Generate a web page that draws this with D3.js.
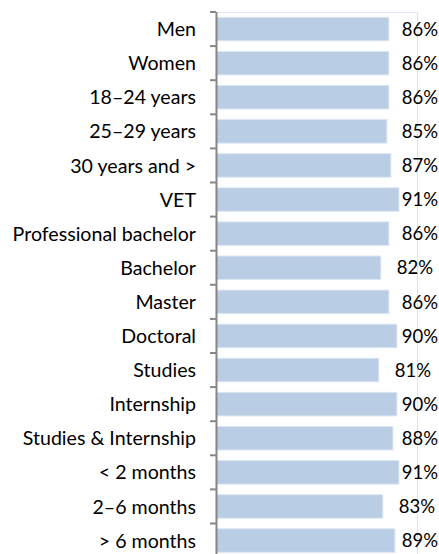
<!DOCTYPE html>
<html>
<head>
<meta charset="utf-8">
<script src="https://cdn.jsdelivr.net/npm/d3@7"></script>
<style>
  body { margin: 0; background: #fff; }
  svg text { font-family: Lato, "Liberation Sans", sans-serif; fill: #000; }
</style>
</head>
<body>
<script>
// categories and values (percent)
var categories = [
  "Men", "Women", "18–24 years", "25–29 years", "30 years and >",
  "VET", "Professional bachelor", "Bachelor", "Master", "Doctoral",
  "Studies", "Internship", "Studies & Internship",
  "< 2 months", "2–6 months", "> 6 months"
];
var values = [86, 86, 86, 85, 87, 91, 86, 82, 86, 90, 81, 90, 88, 91, 83, 89];

var w = 439, h = 554;
var plotLeft = 216, plotRight = 417, plotTop = 12, band = 34.1;

var svg = d3.select("body").append("svg")
  .attr("width", w)
  .attr("height", h);

var xScale = d3.scaleLinear().domain([0, 100]).range([plotLeft, plotRight]);

var yScale = d3.scaleBand()
  .domain(categories)
  .range([plotTop, plotTop + band * categories.length])
  .paddingInner(0.31)
  .paddingOuter(0.155);

// plot area border (top and right)
svg.append("path")
  .attr("d", "M" + plotLeft + "," + (plotTop + 0.5) + "H" + (plotRight + 0.5) + "V" + h)
  .attr("fill", "none")
  .attr("stroke", "#dbe4f0")
  .attr("stroke-width", 1);

// bars
svg.selectAll(".bar")
  .data(values)
  .enter()
  .append("rect")
  .attr("class", "bar")
  .attr("x", xScale(0))
  .attr("y", function (d, i) { return yScale(categories[i]); })
  .attr("width", function (d) { return xScale(d) - xScale(0); })
  .attr("height", yScale.bandwidth())
  .attr("fill", "#b9cde5")
  .attr("stroke", "#dce6f2")
  .attr("stroke-width", 1);

// category axis with ticks at band boundaries
var axis = svg.append("g");
axis.append("line")
  .attr("x1", plotLeft + 0.5).attr("x2", plotLeft + 0.5)
  .attr("y1", plotTop).attr("y2", h)
  .attr("stroke", "#868686").attr("stroke-width", 2);

axis.selectAll(".tick")
  .data(d3.range(categories.length + 1))
  .enter()
  .append("line")
  .attr("x1", plotLeft - 6).attr("x2", plotLeft)
  .attr("y1", function (i) { return plotTop + i * band; })
  .attr("y2", function (i) { return plotTop + i * band; })
  .attr("stroke", "#868686").attr("stroke-width", 2);

// category labels
svg.selectAll(".cat")
  .data(categories)
  .enter()
  .append("text")
  .attr("class", "cat")
  .attr("x", 196)
  .attr("y", function (d) { return yScale(d) + yScale.bandwidth() / 2; })
  .attr("dy", "0.36em")
  .attr("text-anchor", "end")
  .style("font-size", "19.6px")
  .text(function (d) { return d; });

// value labels, pushed back inside the chart edge when too wide
svg.selectAll(".val")
  .data(values)
  .enter()
  .append("text")
  .attr("class", "val")
  .attr("y", function (d, i) { return yScale(categories[i]) + yScale.bandwidth() / 2; })
  .attr("dy", "0.36em")
  .style("font-size", "18.5px")
  .text(function (d) { return d + "%"; })
  .attr("x", function (d) {
    var tw = this.getComputedTextLength();
    return Math.min(xScale(d) + 16, 438 - tw);
  });
</script>
</body>
</html>
